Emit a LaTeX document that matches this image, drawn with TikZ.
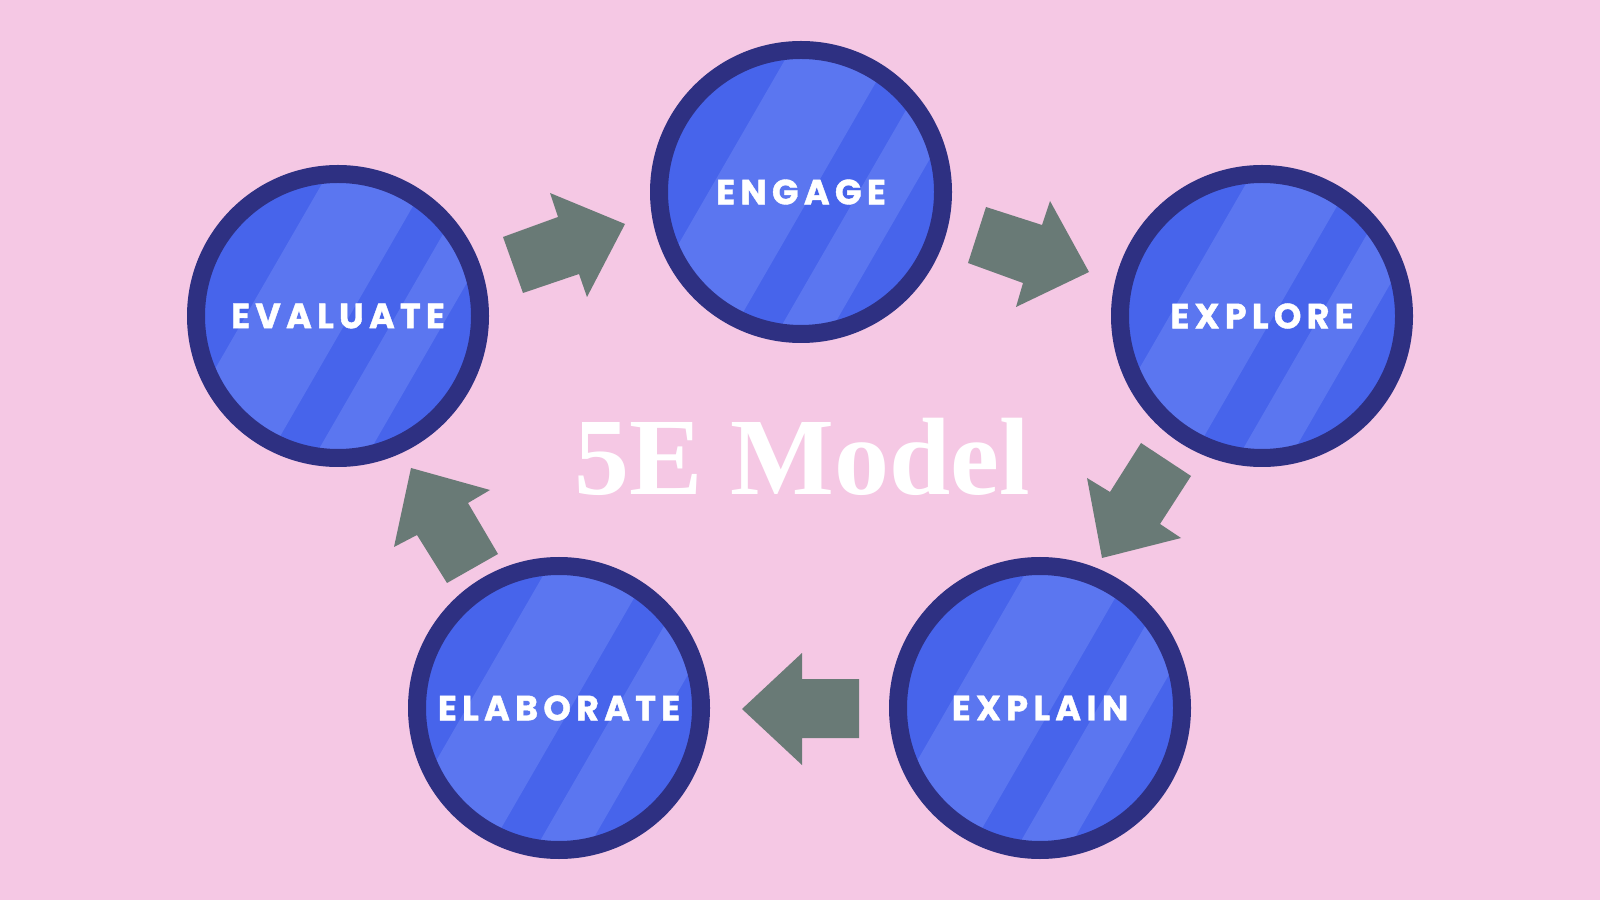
\documentclass[tikz,border=0pt]{standalone}
\usepackage{fontspec}
\newfontfamily\labelfont{Poppins}[LetterSpace=15, BoldFeatures={FakeBold=1.2}]
\newfontfamily\titlefont{Liberation Serif}
\definecolor{bgpink}{RGB}{245,200,228}
\definecolor{ringnavy}{RGB}{46,48,130}
\definecolor{bluedark}{RGB}{71,100,235}
\definecolor{bluelight}{RGB}{91,118,240}
\definecolor{arrowgray}{RGB}{105,122,118}
\newcommand{\stripeband}[2]{%
  \fill[bluelight] (path picture bounding box.center) ++(-30:#1) ++(60:-200)
    -- ++(60:400) -- ++(-30:{#2-#1}) -- ++(60:-400) -- cycle;}
\tikzset{
  stage/.style={circle, minimum size=284pt, inner sep=0pt, fill=bluedark,
    draw=ringnavy, line width=18pt, text=white,
    font=\labelfont\bfseries\fontsize{35}{35}\selectfont,
    path picture={\stripeband{-80}{10}\stripeband{50}{95}}},
  blockarrow/.style={fill=arrowgray},
  title/.style={text=white, font=\titlefont\bfseries\fontsize{110}{110}\selectfont, inner sep=0pt, anchor=base}
}
\begin{document}
\begin{tikzpicture}[x=1pt,y=1pt]
\fill[bgpink] (0,0) rectangle (1600,900);
\useasboundingbox (0,0) rectangle (1600,900);

\node[stage] (engage) at (801,708) {ENGAGE};
\node[stage] (evaluate) at (338,584) {EVALUATE};
\node[stage] (explore) at (1262,584) {EXPLORE};
\node[stage] (elaborate) at (559,192) {ELABORATE};
\node[stage] (explain) at (1040,192) {EXPLAIN};

\node[title] (model) at (802,405) {5E Model};

% block arrows
\fill[blockarrow] (503,663) -- (523,607) -- (579,626) -- (587,603) -- (625,676) -- (550,707) -- (558,683) -- cycle;
\fill[blockarrow] (986,693) -- (1042,675) -- (1050,699) -- (1089,628) -- (1016,593) -- (1023,617) -- (968,637) -- cycle;
\fill[blockarrow] (1141,457) -- (1191,424) -- (1160,376) -- (1181,362) -- (1102,342) -- (1087,422) -- (1110,408) -- cycle;
\fill[blockarrow] (859,221) -- (859,162) -- (802,162) -- (802,135) -- (742,191) -- (802,247) -- (802,221) -- cycle;
\fill[blockarrow] (498,346) -- (447,317) -- (417,365) -- (394,353) -- (411,432) -- (490,410) -- (468,397) -- cycle;
\end{tikzpicture}
\end{document}
